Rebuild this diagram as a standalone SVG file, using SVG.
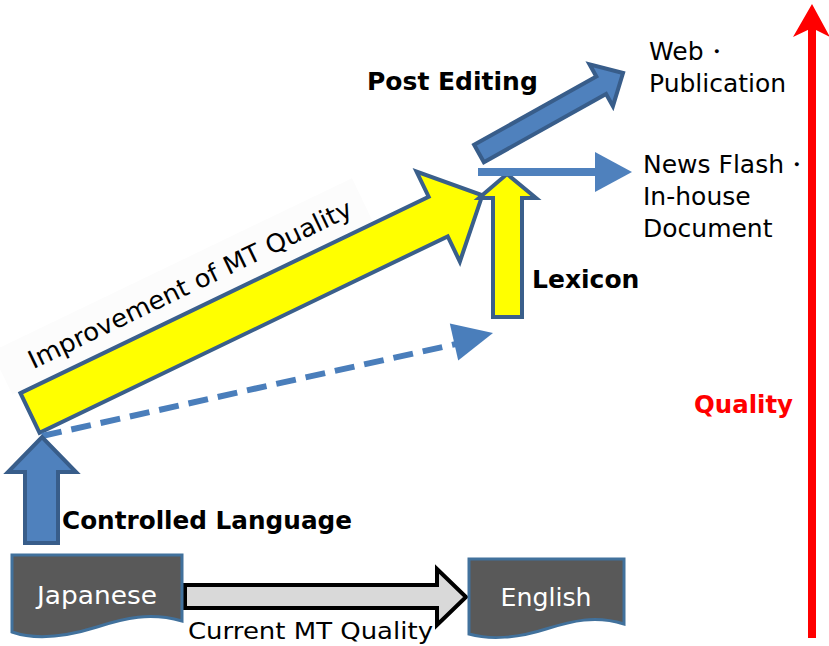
<svg xmlns="http://www.w3.org/2000/svg" width="829" height="646" viewBox="0 0 829 646">
<style>
text{font-family:"DejaVu Sans","Noto Sans",sans-serif;fill:#000}
.b{font-weight:bold}
.blue{fill:#4f81bd;stroke:#385d8a;stroke-width:4;stroke-linejoin:miter}
.yel{fill:#ffff00;stroke:#3a5f8b;stroke-width:4}
.doc{fill:#595959;stroke:#41719c;stroke-width:3}
.wt{fill:#fff;font-size:25px}
</style>
<rect width="829" height="646" fill="#fff"/>
<g id="connectors">
  <g id="improvement">
    <g transform="translate(30,413) rotate(-25.7)">
      <rect x="-8" y="-72" width="400" height="48" fill="#fcfcfc"/>
      <polygon class="yel" points="0,-22 453,-22 453,-50 502,0 453,50 453,22 0,22"/>
      <text x="22" y="-38" font-size="25" textLength="356" lengthAdjust="spacingAndGlyphs">Improvement of MT Quality</text>
    </g>
  </g>
  <g id="dashed">
    <line x1="42" y1="436" x2="456" y2="344" stroke="#4a7ebb" stroke-width="6" stroke-dasharray="20 10"/>
    <polygon points="493,333 449.8,323.5 458.2,360.5" fill="#4a7ebb"/>
  </g>
  <g id="controlled">
    <polygon class="blue" points="25,543 25,472 8,472 42,437 76,472 58,472 58,543"/>
  </g>
  <g id="lexicon">
    <polygon class="yel" points="493,317 493,198 479,198 507,174 536,198 522,198 522,317"/>
  </g>
  <g id="newsflash-arrow">
    <rect x="478" y="168" width="119" height="8" fill="#4f81bd"/>
    <polygon points="595,152 632,172 595,192" fill="#4f81bd"/>
  </g>
  <g id="postediting-arrow">
    <g transform="translate(479,153.5) rotate(-29.2)">
      <polygon class="blue" points="0,-10 140,-10 140,-24 165,0 140,24 140,10 0,10"/>
    </g>
  </g>
  <g id="current-arrow">
    <polygon points="185,585 437,585 437,569 466,597 437,625 437,608 185,608" fill="#d9d9d9" stroke="#000" stroke-width="4"/>
  </g>
  <g id="quality-arrow">
    <line x1="812" y1="638" x2="812" y2="26" stroke="#ff0000" stroke-width="8"/>
    <polygon points="793,37 812,4 830,37 812,28" fill="#ff0000"/>
  </g>
</g>
<g id="japanese">
  <path class="doc" d="M12,555 H182 V621 C150,612 125,618 97,627 C65,637 35,640 12,632 Z"/>
  <text class="wt" x="97" y="604" text-anchor="middle" textLength="120" lengthAdjust="spacingAndGlyphs">Japanese</text>
</g>
<g id="english">
  <path class="doc" d="M469,559 H624 V624 C595,615 572,621 546,629 C518,638 490,640 469,634 Z"/>
  <text class="wt" x="546" y="606" text-anchor="middle" textLength="91" lengthAdjust="spacingAndGlyphs">English</text>
</g>
<text x="188" y="639" font-size="23" textLength="245" lengthAdjust="spacingAndGlyphs">Current MT Quality</text>
<text class="b" x="62" y="529" font-size="24" textLength="290" lengthAdjust="spacingAndGlyphs">Controlled Language</text>
<text class="b" x="532" y="288" font-size="25">Lexicon</text>
<text class="b" x="367" y="90" font-size="25">Post Editing</text>
<text x="649" y="60" font-size="25">Web・</text>
<text x="649" y="92" font-size="25">Publication</text>
<text x="643" y="173" font-size="25">News Flash・</text>
<text x="643" y="205" font-size="25">In-house</text>
<text x="643" y="237" font-size="25">Document</text>
<text class="b" x="694" y="413" font-size="24" textLength="99" lengthAdjust="spacingAndGlyphs" style="fill:#ff0000">Quality</text>
</svg>
